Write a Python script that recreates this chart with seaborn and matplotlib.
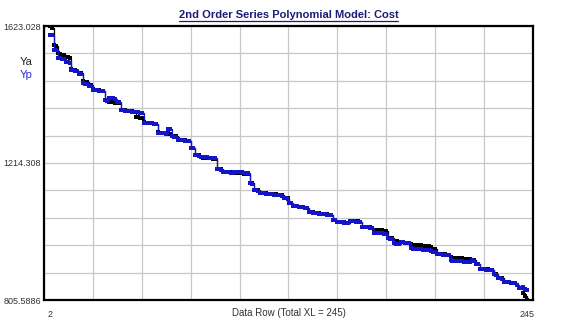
import numpy as np
import pandas as pd
import matplotlib
matplotlib.use("Agg")
import matplotlib.pyplot as plt
import seaborn as sns

# ---- data ----
rows = list(range(2, 246))

ya = [
    1623.028, 1618, 1566, 1563, 1541, 1539, 1538, 1536, 1531, 1530,
    1528, 1494, 1492, 1491, 1489, 1484, 1482, 1458, 1456, 1455,
    1448, 1446, 1434, 1433, 1432, 1431, 1430, 1429, 1403, 1401,
    1397, 1396, 1395, 1394, 1394, 1392, 1373, 1372, 1371, 1370,
    1369, 1368, 1368, 1367, 1352, 1351, 1350, 1349, 1336, 1335,
    1334, 1334, 1333, 1332, 1331, 1306, 1305, 1304, 1304, 1303,
    1304, 1302, 1296, 1295, 1294, 1285, 1284, 1283, 1283, 1282,
    1281, 1280, 1260, 1258, 1239, 1238, 1237, 1231, 1230, 1229,
    1229, 1228, 1228, 1227, 1226, 1197, 1196, 1195, 1188, 1187,
    1187, 1186, 1186, 1185, 1185, 1184, 1184, 1183, 1183, 1182,
    1182, 1181, 1156, 1154, 1135, 1134, 1133, 1126, 1125, 1125,
    1124, 1123, 1123, 1122, 1121, 1121, 1120, 1119, 1118, 1111,
    1110, 1109, 1096, 1095, 1087, 1086, 1085, 1084, 1083, 1082,
    1081, 1080, 1069, 1068, 1067, 1066, 1065, 1064, 1063, 1062,
    1062, 1061, 1060, 1059, 1045, 1043, 1039, 1038, 1038, 1037,
    1037, 1036, 1036, 1041, 1042, 1041, 1040, 1040, 1039, 1024,
    1023, 1023, 1022, 1022, 1021, 1015, 1014, 1014, 1013, 1013,
    1012, 1011, 992, 991, 990, 983, 982, 981, 980, 979,
    978, 977, 977, 976, 972, 971, 970, 970, 969, 969,
    968, 968, 967, 966, 965, 958, 957, 944, 943, 943,
    942, 942, 941, 940, 933, 932, 932, 931, 931, 930,
    930, 929, 929, 928, 927, 925, 924, 914, 913, 899,
    898, 898, 897, 897, 896, 895, 883, 882, 872, 871,
    870, 860, 859, 859, 858, 857, 857, 856, 850, 841,
    840, 826, 817, 805.5886,
]

yp = [
    1596, 1595, 1551, 1550, 1528, 1527, 1526, 1525, 1516, 1515,
    1514, 1493, 1492, 1490, 1489, 1481, 1480, 1452, 1451, 1450,
    1445, 1444, 1433, 1432, 1431, 1430, 1429, 1428, 1401, 1400,
    1409, 1408, 1407, 1406, 1396, 1395, 1372, 1371, 1370, 1369,
    1368, 1368, 1367, 1366, 1366, 1365, 1364, 1363, 1335, 1334,
    1334, 1333, 1333, 1332, 1331, 1305, 1304, 1304, 1303, 1302,
    1316, 1315, 1294, 1293, 1293, 1284, 1283, 1283, 1282, 1281,
    1281, 1280, 1259, 1258, 1238, 1237, 1236, 1233, 1232, 1231,
    1231, 1230, 1229, 1228, 1228, 1196, 1195, 1194, 1187, 1187,
    1186, 1186, 1185, 1185, 1188, 1188, 1187, 1186, 1186, 1185,
    1184, 1183, 1155, 1153, 1134, 1133, 1132, 1125, 1124, 1124,
    1123, 1122, 1122, 1121, 1120, 1120, 1119, 1118, 1117, 1110,
    1109, 1108, 1095, 1094, 1087, 1086, 1085, 1084, 1083, 1082,
    1081, 1080, 1068, 1067, 1066, 1065, 1064, 1063, 1062, 1061,
    1061, 1060, 1059, 1058, 1044, 1043, 1038, 1038, 1037, 1037,
    1036, 1036, 1035, 1040, 1041, 1040, 1039, 1039, 1038, 1024,
    1023, 1022, 1022, 1021, 1021, 1006, 1005, 1005, 1004, 1004,
    1003, 1002, 990, 989, 988, 975, 974, 973, 972, 979,
    978, 977, 976, 975, 960, 959, 958, 958, 957, 957,
    956, 956, 955, 954, 953, 949, 948, 943, 942, 942,
    941, 941, 940, 939, 924, 923, 923, 922, 922, 921,
    921, 920, 920, 919, 918, 924, 923, 913, 912, 898,
    897, 897, 896, 896, 895, 894, 882, 881, 871, 870,
    869, 860, 859, 858, 858, 857, 856, 856, 849, 842,
    841, 844, 838, 836,
]

y_labels = ["1623.028", "1214.308", "805.5886"]
x_labels = ["2", "245"]

df = pd.DataFrame({"row": rows, "Ya": ya, "Yp": yp})

sns.set_style("white")
plt.rcParams["font.family"] = ["Liberation Sans", "DejaVu Sans"]

fig = plt.figure(figsize=(5.76, 3.25), dpi=100)
ax = fig.add_axes([44 / 576, 25 / 325, 489 / 576, 274 / 325])

sns.lineplot(data=df, x="row", y="Ya", ax=ax, color="black", lw=0.9,
             drawstyle="steps-post", marker="s", markersize=2.4,
             markeredgewidth=0, zorder=3)
sns.lineplot(data=df, x="row", y="Yp", ax=ax, color="#1414c8", lw=0.9,
             drawstyle="steps-post", marker="s", markersize=2.4,
             markeredgewidth=0, zorder=4)

ymin, ymax = min(ya), max(ya)
ax.set_ylim(ymin, ymax)
ax.set_xlim(-1, 248)

# grid: 10 x 10 divisions
ax.set_yticks(np.linspace(ymin, ymax, 11))
ax.set_yticklabels([y_labels[2], "", "", "", "", y_labels[1], "", "", "", "", y_labels[0]])
ax.set_xticks(np.linspace(-1, 248, 11))
ax.set_xticklabels([])
ax.set_xticks([2, 245], minor=True)
ax.set_xticklabels(x_labels, minor=True)
ax.tick_params(axis="both", which="both", length=0, labelsize=6.5,
               labelcolor="#333333")
ax.tick_params(axis="y", pad=2)
ax.tick_params(axis="x", which="minor", pad=7)
ax.grid(True, which="major", color="#c8c8c8", lw=0.9)

for sp in ax.spines.values():
    sp.set_color("black")
    sp.set_linewidth(1.6)

ax.set_ylabel("")
ax.set_xlabel("Data Row (Total XL = 245)", fontsize=7, color="#333333",
              labelpad=-8)

ax.set_title("2nd Order Series Polynomial Model: Cost", fontsize=8,
             fontweight="bold", color="#1c1c78", pad=6)
t = ax.title
fig.canvas.draw()
bb = t.get_window_extent()
x0, x1 = bb.x0 / fig.bbox.width, bb.x1 / fig.bbox.width
yb = (bb.y0 - 1) / fig.bbox.height
fig.add_artist(plt.Line2D([x0, x1], [yb, yb], color="#1c1c78", lw=0.9))

fig.text(20 / 576, 1 - 62 / 325, "Ya", fontsize=8, color="#222222", va="center")
fig.text(20 / 576, 1 - 75 / 325, "Yp", fontsize=8, color="#2a2ad0", va="center")

fig.savefig("out.png", dpi=100)
